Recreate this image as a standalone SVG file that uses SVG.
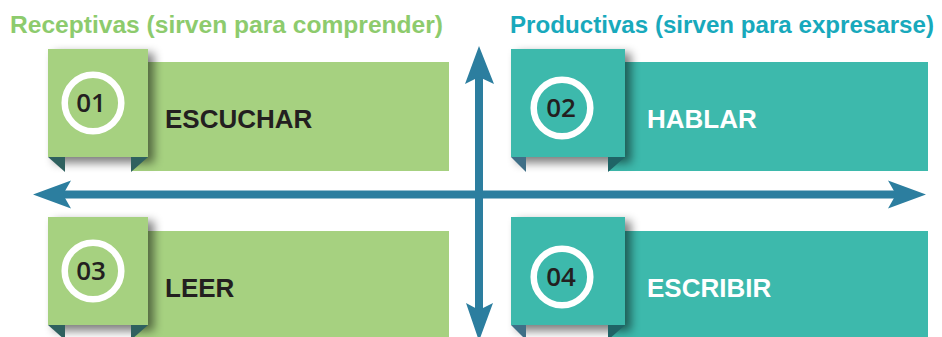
<svg xmlns="http://www.w3.org/2000/svg" width="942" height="337" viewBox="0 0 942 337">
<defs>
<style>
.title{font-family:"Liberation Sans",Arial,sans-serif;font-weight:bold;font-size:24px}
.lbl{font-family:"Liberation Sans",Arial,sans-serif;font-weight:bold;font-size:26px}
.num{font-family:"Open Sans","Liberation Sans",Arial,sans-serif;font-weight:600;font-size:26px;fill:#231F20;text-anchor:middle}
.ring{fill:none;stroke:#fff;stroke-width:6.5}
.g{fill:#A6D180}
.t{fill:#3DB9AC}
.gf{fill:#2F615F}
.tfl{fill:#3F6F87}
.tfr{fill:#1F6466}
.shadow{fill:#000;opacity:0.5;filter:url(#blur)}
.arrow{fill:#2C7E9F}
</style>
<filter id="blur" x="-30%" y="-30%" width="160%" height="160%"><feGaussianBlur stdDeviation="5"/></filter>
</defs>
<rect width="942" height="337" fill="#fff"/>
<text class="title" x="10" y="33" fill="#8DCB6D" textLength="433" lengthAdjust="spacingAndGlyphs">Receptivas (sirven para comprender)</text>
<text class="title" x="510" y="33" fill="#18A9BC" textLength="424" lengthAdjust="spacingAndGlyphs">Productivas (sirven para expresarse)</text>

<g id="node-escuchar">
<rect class="g" x="131" y="62" width="318" height="109"/>
<rect class="shadow" x="54" y="53" width="100" height="110"/>
<polygon class="gf" points="48,157 65,157 65,172"/>
<polygon class="gf" points="131,157 148,157 131,172"/>
<rect class="g" x="48" y="49" width="100" height="108"/>
<circle class="ring" cx="93" cy="103" r="28.3"/>
<text class="num" x="91" y="112">01</text>
<text class="lbl" x="165" y="128" fill="#231F20">ESCUCHAR</text>
</g>

<g id="node-hablar">
<rect class="t" x="608" y="62" width="320" height="109"/>
<rect class="shadow" x="517" y="53" width="114" height="110"/>
<polygon class="tfl" points="511,157 526,157 526,172"/>
<polygon class="tfr" points="608,157 625,157 608,172"/>
<rect class="t" x="511" y="49" width="114" height="108"/>
<circle class="ring" cx="562" cy="108" r="28.3"/>
<text class="num" x="561" y="117">02</text>
<text class="lbl" x="647" y="128" fill="#fff">HABLAR</text>
</g>

<g id="node-leer">
<rect class="g" x="131" y="231" width="318" height="110"/>
<rect class="shadow" x="54" y="221" width="100" height="110"/>
<polygon class="gf" points="48,325 65,325 65,340"/>
<polygon class="gf" points="131,325 148,325 131,340"/>
<rect class="g" x="48" y="217" width="100" height="108"/>
<circle class="ring" cx="93" cy="271" r="28.3"/>
<text class="num" x="91" y="280">03</text>
<text class="lbl" x="165" y="297" fill="#231F20">LEER</text>
</g>

<g id="node-escribir">
<rect class="t" x="608" y="231" width="320" height="110"/>
<rect class="shadow" x="517" y="221" width="114" height="110"/>
<polygon class="tfl" points="511,325 526,325 526,340"/>
<polygon class="tfr" points="608,325 625,325 608,340"/>
<rect class="t" x="511" y="217" width="114" height="108"/>
<circle class="ring" cx="562" cy="277" r="28.3"/>
<text class="num" x="561" y="286">04</text>
<text class="lbl" x="647" y="297" fill="#fff">ESCRIBIR</text>
</g>

<g id="connectors">
<rect class="arrow" x="60" y="190.5" width="840" height="8"/>
<polygon class="arrow" points="926,194.5 888,180.5 896,194.5 888,208.5"/>
<polygon class="arrow" points="33,194.5 71,180.5 63,194.5 71,208.5"/>
<rect class="arrow" x="475" y="70" width="8" height="250"/>
<polygon class="arrow" points="479,46 465,84 479,77 494,84"/>
<polygon class="arrow" points="479,341 466,303 479,310 493,303"/>
</g>
</svg>
